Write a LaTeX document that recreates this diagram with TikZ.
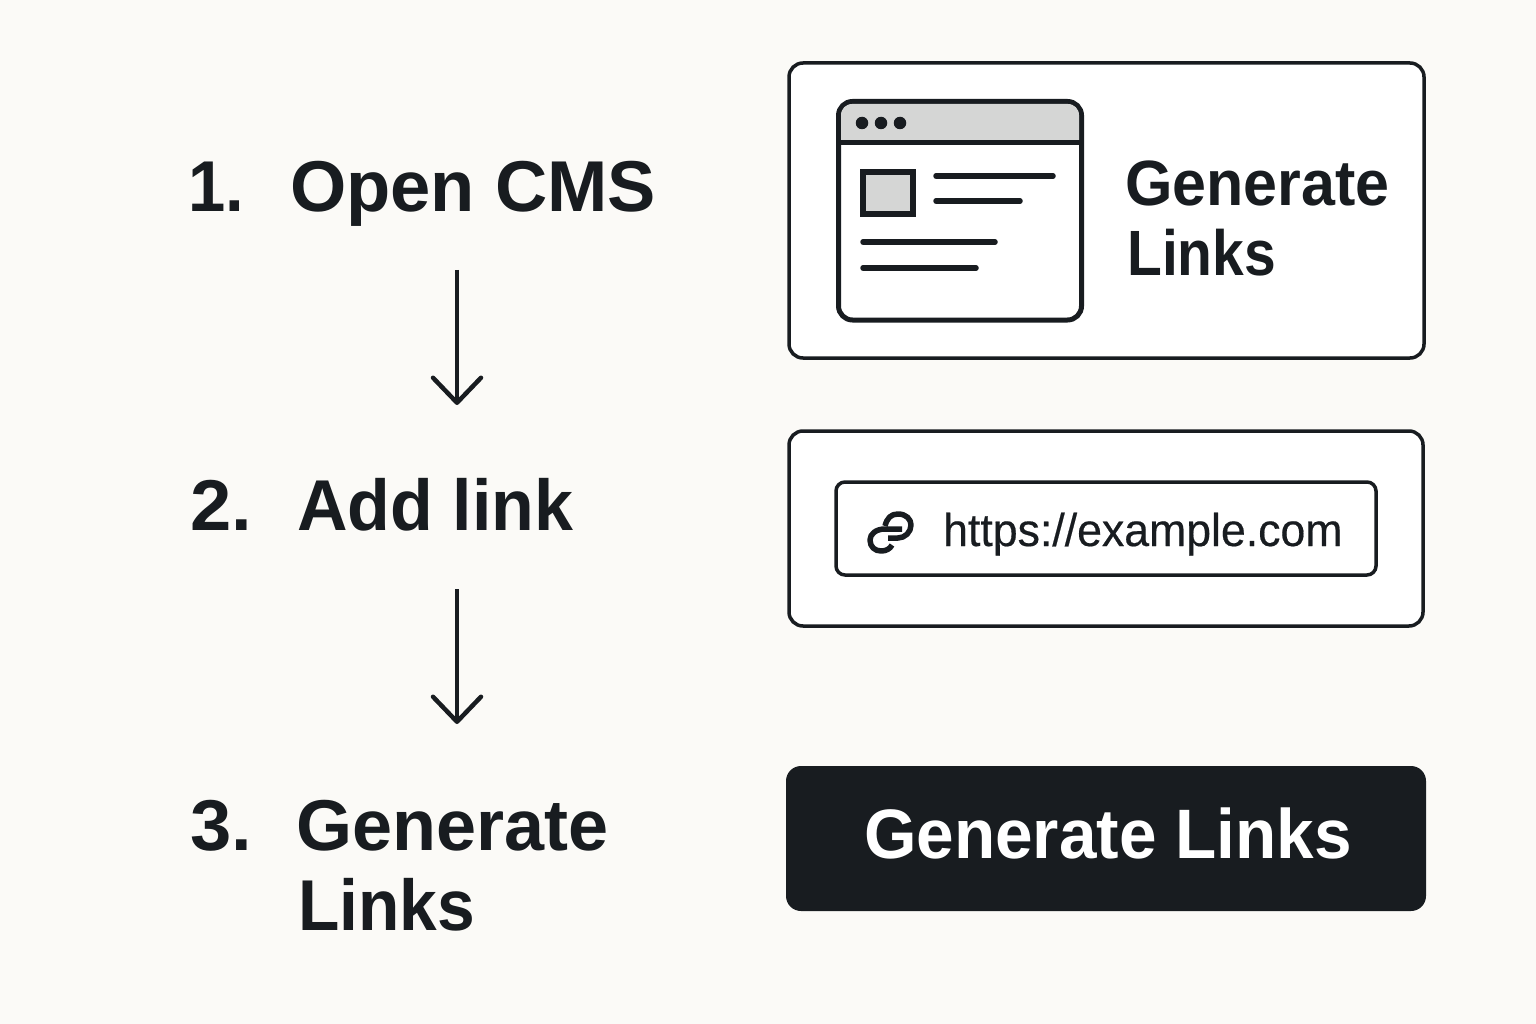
\documentclass[tikz,border=0pt]{standalone}
\usepackage{fontspec}
\usepackage{graphicx}
\setmainfont{Liberation Sans}
\usetikzlibrary{arrows.meta}
\definecolor{ink}{HTML}{181C20}
\definecolor{paper}{HTML}{FBFAF7}
\definecolor{panel}{HTML}{D5D6D5}
\newcommand{\sx}[2]{\scalebox{#1}[1]{#2}}
\tikzset{
  x=1pt,y=-1pt,
  txt/.style={inner sep=0pt,text=ink,anchor=base west,font=\bfseries\fontsize{72}{72}\selectfont},
  card/.style={draw=ink,line width=3.5pt,fill=white,rounded corners=14pt},
  thin/.style={draw=ink,line width=3.5pt},
  iconline/.style={draw=ink,line width=5pt},
  rule/.style={draw=ink,line width=5.5pt,line cap=round},
  flow/.style={draw=ink,line width=4pt,-{Straight Barb[length=25pt,width=48pt,line width=4.5pt,round=false]}},
  chain/.style={draw=ink,line width=5.5pt,line cap=butt,line join=round},
  dot/.style={circle,fill=ink,inner sep=0pt,minimum size=12.5pt}
}
\begin{document}
\begin{tikzpicture}
\useasboundingbox (0,0) rectangle (1536,1024);
\fill[paper] (0,0) rectangle (1536,1024);

% left column
\node[txt] (n1) at (188,212) {\sx{0.93}{1.}};
\node[txt] (t1) at (290,212) {\sx{1.005}{Open CMS}};
\node[txt] (n2) at (190,530) {\sx{1.03}{2.}};
\node[txt] (t2) at (297,530) {\sx{0.972}{Add link}};
\node[txt] (n3) at (190,850) {\sx{1.03}{3.}};
\node[txt] (t3a) at (296,850) {Generate};
\node[txt] (t3b) at (298,930) {\sx{0.94}{Links}};

\coordinate (a1s) at (457,270);
\coordinate (a1e) at (457,405);
\coordinate (a2s) at (457,589);
\coordinate (a2e) at (457,724);
\draw[flow] (a1s) -- (a1e);
\draw[flow] (a2s) -- (a2e);

% card 1
\draw[card] (789,63) rectangle (1424,358);
\draw[iconline,fill=white,rounded corners=14pt] (838.5,101.5) rectangle (1081.5,320);
\fill[panel] (841,143) [rounded corners=11pt] -- (841,104) -- (1079,104) [sharp corners] -- (1079,143) -- cycle;
\draw[iconline] (838.5,143) -- (1081.5,143);
\node[dot] (d1) at (862,123) {};
\node[dot] (d2) at (881,123) {};
\node[dot] (d3) at (900,123) {};
\draw[iconline,line width=5.5pt,fill=panel] (863,172) rectangle (913,214);
\draw[rule] (936,176) -- (1053,176);
\draw[rule] (936,201) -- (1020,201);
\draw[rule] (863,242) -- (995,242);
\draw[rule] (863,268) -- (976,268);
\node[txt,font=\bfseries\fontsize{64}{64}\selectfont] (g1) at (1125,206) {\sx{0.953}{Generate}};
\node[txt,font=\bfseries\fontsize{64}{64}\selectfont] (g2) at (1127,276) {\sx{0.89}{Links}};

% card 2
\draw[card] (789,431) rectangle (1423,626);
\draw[thin,rounded corners=9pt] (836,482) rectangle (1376,575);
\draw[chain] (885,526) .. controls (887,518) and (891,514) .. (898,514)
  .. controls (906,514) and (911,519) .. (911,525)
  .. controls (911,532) and (905,538) .. (898,538) -- (888,538);
\draw[chain] (902,529) -- (885,529)
  .. controls (876,529) and (870,534) .. (870,540)
  .. controls (870,547) and (875,551) .. (881,551)
  .. controls (886,551) and (890,549) .. (892,545);
\node[txt,font=\fontsize{46}{46}\selectfont\addfontfeature{FakeBold=0.4}] (url) at (943,546) {\sx{0.97}{https://example.com}};

% button
\fill[ink,rounded corners=15pt] (786,766) rectangle (1426,911);
\node[txt,text=white,font=\bfseries\fontsize{70}{70}\selectfont] (btn) at (864,858) {\sx{0.964}{Generate Links}};
\end{tikzpicture}
\end{document}
